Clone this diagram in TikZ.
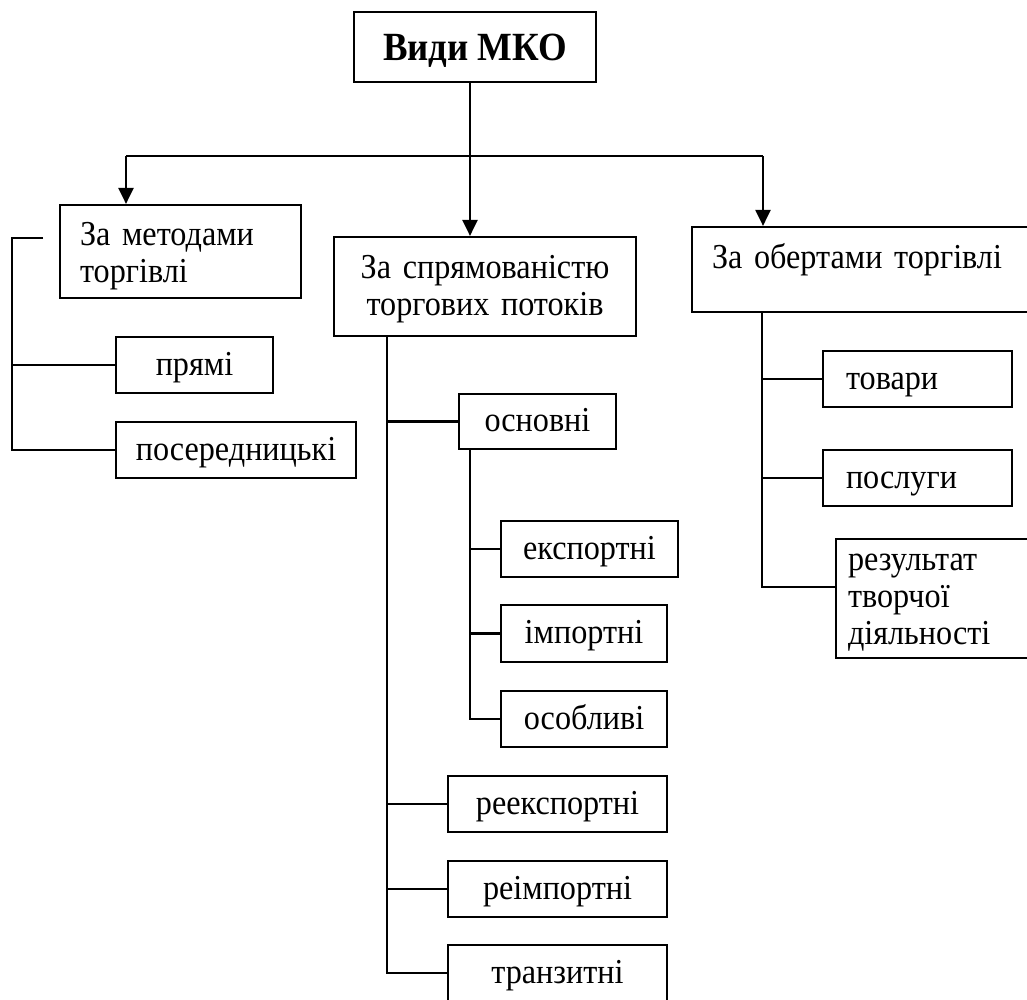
\documentclass[tikz,border=0pt]{standalone}
\usepackage{fontspec}
\setmainfont{Liberation Serif}[FakeStretch=0.92]
\usetikzlibrary{arrows.meta}
\newcommand{\mytop}[1]{\rule{0pt}{#1}}
\newcommand{\mybot}[1]{\rule[-#1]{0pt}{#1}}
\begin{document}
\begin{tikzpicture}[x=1pt,y=-1pt,
  box/.style={draw,line width=2.2pt,inner sep=0pt,font=\fontsize{35}{37}\selectfont},
  sbox/.style={box,text height=28pt,text depth=8pt,minimum height=56pt},
  lbox/.style={box,align=left},
  conn/.style={line width=2.2pt},
  arr/.style={conn,-{Triangle[width=15pt,length=16pt]}}]
\useasboundingbox (0,0) rectangle (1027,999);
\clip (0,0) rectangle (1027,999);
\fill[white] (0,0) rectangle (1027,999);

% nodes
\node[box,minimum width=242pt,minimum height=70pt,text height=30pt,text depth=4pt,font=\fontsize{40}{42}\selectfont\bfseries] (top) at (475,47) {Види МКО};
\node[lbox,text width=201pt,inner xsep=20pt,minimum height=93pt] (m1) at (180.5,251.5) {\mytop{34pt}За методами\\торгівлі\mybot{10pt}};
\node[box,text width=302pt,align=center,minimum height=99pt] (m2) at (485,286.5) {\mytop{27.8pt}За спрямованістю\\торгових потоків\mybot{7.6pt}};
\node[lbox,text width=315pt,inner xsep=20pt,minimum height=85pt] (m3) at (869.5,269.5) {\mytop{24pt}За обертами торгівлі\mybot{27pt}};

\node[sbox,minimum width=157pt] (pr) at (194.5,365) {прямі};
\node[sbox,minimum width=240pt] (pos) at (236,450) {посередницькі};

\node[sbox,minimum width=157pt,minimum height=55pt] (osn) at (537.5,421.5) {основні};
\node[sbox,minimum width=177pt] (exp) at (589.5,549) {експортні};
\node[sbox,minimum width=166pt,minimum height=57pt] (imp) at (584,633.5) {імпортні};
\node[sbox,minimum width=166pt] (osob) at (584,719) {особливі};
\node[sbox,minimum width=219pt] (reexp) at (557.5,804) {реекспортні};
\node[sbox,minimum width=219pt] (reimp) at (557.5,889) {реімпортні};
\node[sbox,minimum width=219pt] (tranz) at (557.5,973) {транзитні};

\node[sbox,align=left,text width=143pt,inner xsep=23pt] (tov) at (917.5,379) {товари};
\node[sbox,align=left,text width=143pt,inner xsep=23pt] (posl) at (917.5,478) {послуги};
\node[lbox,text width=187pt,inner xsep=12pt,minimum height=119pt] (rez) at (941.5,598.5) {\mytop{28pt}результат\\творчої\\діяльності\mybot{11pt}};

% top connectors
\coordinate (hub) at (470,156);
\coordinate (lft) at (126,156);
\coordinate (rgt) at (763,156);
\draw[conn] (top.south -| hub) -- (hub);
\draw[conn] (lft) -- (rgt);
\draw[arr] (hub) -- (hub |- m2.north);
\draw[arr] (lft) -- (lft |- m1.north);
\draw[arr] (rgt) -- (rgt |- m3.north);

% left bracket
\coordinate (lb) at (43,238);
\coordinate (lc) at (12,238);
\draw[conn] (lb) -- (lc) |- (pos.west);
\draw[conn] (lc |- pr.west) -- (pr.west);

% middle tree
\coordinate (mv) at (387,336);
\draw[conn] (mv) |- (tranz.west);
\draw[conn] (mv |- osn.west) -- (osn.west);
\draw[conn] (mv |- reexp.west) -- (reexp.west);
\draw[conn] (mv |- reimp.west) -- (reimp.west);
\coordinate (sv) at (470,449);
\draw[conn] (sv) |- (osob.west);
\draw[conn] (sv |- exp.west) -- (exp.west);
\draw[conn] (sv |- imp.west) -- (imp.west);

% right tree
\coordinate (rv) at (762,312);
\coordinate (rezin) at ([yshift=11.5pt]rez.west);
\draw[conn] (rv) |- (rezin);
\draw[conn] (rv |- tov.west) -- (tov.west);
\draw[conn] (rv |- posl.west) -- (posl.west);
\end{tikzpicture}
\end{document}
